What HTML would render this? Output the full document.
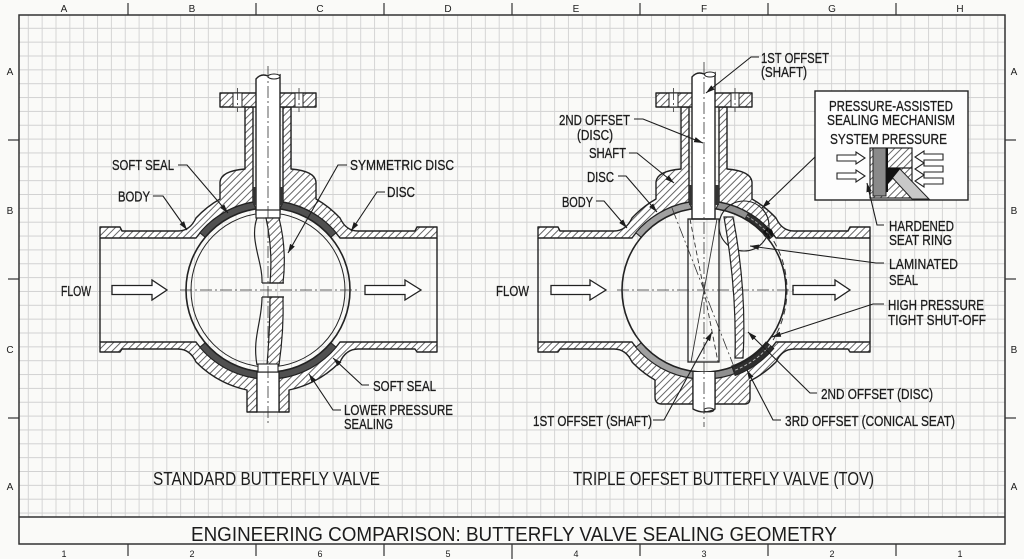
<!DOCTYPE html>
<html><head><meta charset="utf-8"><style>
html,body{margin:0;padding:0;background:#fafaf8;}
svg{display:block}
text{font-family:"Liberation Sans",Arial,sans-serif;fill:#1c1c1c}
</style></head><body>
<svg width="1024" height="559" viewBox="0 0 1024 559" xmlns="http://www.w3.org/2000/svg">
<defs>
<pattern id="g" x="0.1" y="0.1" width="13.85" height="13.85" patternUnits="userSpaceOnUse"><path d="M0,0.5 H13.85 M0.5,0 V13.85" stroke="#d2d2d2" stroke-width="0.9" fill="none"/></pattern>
<pattern id="h" width="5" height="5" patternUnits="userSpaceOnUse" patternTransform="rotate(45)"><rect width="5" height="5" fill="#fff"/><line x1="2.5" y1="0" x2="2.5" y2="5" stroke="#555" stroke-width="0.9"/></pattern>
<marker id="a" viewBox="0 0 10 6" refX="10" refY="3" markerWidth="9" markerHeight="6" orient="auto" markerUnits="userSpaceOnUse"><path d="M0,0 L10,3 L0,6 Z" fill="#1c1c1c"/></marker>
</defs>

<!-- background & grid -->
<rect x="0" y="0" width="1024" height="559" fill="#fafaf8"/>
<rect x="19" y="15" width="986" height="502" fill="url(#g)"/>
<rect x="19" y="15" width="986" height="529" fill="none" stroke="#333" stroke-width="1.5"/>
<line x1="19" y1="517" x2="1005" y2="517" stroke="#333" stroke-width="1.5"/>

<!-- rulers -->
<g stroke="#333" stroke-width="1.2">
<line x1="128" y1="3" x2="128" y2="15"/><line x1="256" y1="3" x2="256" y2="15"/><line x1="384" y1="3" x2="384" y2="15"/><line x1="512" y1="3" x2="512" y2="15"/><line x1="640" y1="3" x2="640" y2="15"/><line x1="768" y1="3" x2="768" y2="15"/><line x1="896" y1="3" x2="896" y2="15"/>
<line x1="128" y1="544" x2="128" y2="556"/><line x1="256" y1="544" x2="256" y2="556"/><line x1="384" y1="544" x2="384" y2="556"/><line x1="512" y1="544" x2="512" y2="559"/><line x1="640" y1="544" x2="640" y2="556"/><line x1="768" y1="544" x2="768" y2="556"/><line x1="896" y1="544" x2="896" y2="556"/>
<line x1="8" y1="140" x2="19" y2="140"/><line x1="8" y1="279" x2="19" y2="279"/><line x1="8" y1="418" x2="19" y2="418"/>
<line x1="1005" y1="140" x2="1016" y2="140"/><line x1="1005" y1="279" x2="1016" y2="279"/><line x1="1005" y1="418" x2="1016" y2="418"/>
</g>
<g font-size="10" text-anchor="middle">
<text x="64" y="12">A</text><text x="192" y="12">B</text><text x="320" y="12">C</text><text x="448" y="12">D</text><text x="576" y="12">E</text><text x="704" y="12">F</text><text x="832" y="12">G</text><text x="960" y="12">H</text>
<text x="10" y="75">A</text><text x="10" y="214">B</text><text x="10" y="353">C</text><text x="10" y="490">A</text>
<text x="1014" y="75">A</text><text x="1014" y="214">B</text><text x="1014" y="353">B</text><text x="1014" y="490">A</text>
</g>
<g font-size="9" text-anchor="middle">
<text x="64" y="557">1</text><text x="192" y="557">2</text><text x="320" y="557">6</text><text x="448" y="557">5</text><text x="576" y="557">4</text><text x="704" y="557">3</text><text x="832" y="557">2</text><text x="960" y="557">1</text>
</g>

<!-- ================= LEFT VALVE ================= -->
<g stroke="#222" stroke-width="1.4" stroke-linejoin="round" fill="url(#h)">
<path d="M100,227 L120,227 L122,231 L178,231 Q190,231 196,218 A102,102 0 0 1 220,199 L220,182 Q221,171 245,169 L245,107 L253,107 L253,202 A89,89 0 0 0 196,238 L100,238 Z"/>
<path d="M437,227 L417,227 L415,231 L358,231 Q346,231 340,218 A102,102 0 0 0 316,199 L316,182 Q315,171 291,169 L291,107 L283,107 L283,202 A89,89 0 0 1 340,238 L437,238 Z"/>
<path d="M100,342 L196,342 A89,89 0 0 0 257,378.3 L257,412 L247,412 L247,390 A102,102 0 0 1 196,362 Q190,349 178,349 L122,349 L120,352 L100,352 Z"/>
<path d="M437,342 L340,342 A89,89 0 0 1 279,378.3 L279,412 L289,412 L289,390 A102,102 0 0 0 340,362 Q346,349 358,349 L415,349 L417,352 L437,352 Z"/>
<rect x="220" y="93" width="96" height="14"/>
</g>
<g stroke="#222" stroke-width="1" fill="#fff">
<rect x="233" y="93" width="9" height="14"/><rect x="295" y="93" width="8" height="14"/>
</g>
<line x1="100" y1="238" x2="100" y2="342" stroke="#222" stroke-width="1.4"/>
<line x1="437" y1="238" x2="437" y2="342" stroke="#222" stroke-width="1.4"/>
<!-- seals -->
<g fill="#505050" stroke="#222" stroke-width="1">
<path d="M199.8,232.8 A89,89 0 0 1 253,202.3 L256,208.9 A82,82 0 0 0 205.2,237.3 Z"/>
<path d="M336.2,232.8 A89,89 0 0 0 283,202.3 L280,208.9 A82,82 0 0 1 330.8,237.3 Z"/>
<path d="M199.8,347.2 A89,89 0 0 0 257,378.3 L257,371.3 A82,82 0 0 1 205.2,342.7 Z"/>
<path d="M336.2,347.2 A89,89 0 0 1 279,378.3 L279,371.3 A82,82 0 0 0 330.8,342.7 Z"/>
</g>
<circle cx="268" cy="290" r="82" fill="none" stroke="#222" stroke-width="1.6"/>
<circle cx="268" cy="290" r="77" fill="none" stroke="#222" stroke-width="1"/>
<!-- shaft -->
<path d="M256,212 L256,79 Q261,73 268,76 Q274,79 280,75 L280,212 Z" fill="#fff" stroke="#222" stroke-width="1.4"/>
<ellipse cx="274" cy="76.5" rx="6" ry="2.5" fill="#fff" stroke="#222" stroke-width="1"/>
<rect x="253" y="187" width="3" height="18" fill="#333"/><rect x="280" y="187" width="3" height="18" fill="#333"/>
<rect x="256" y="210" width="24" height="8" fill="#fff" stroke="#222" stroke-width="1.2"/>
<!-- disc -->
<g stroke="#222" stroke-width="1.2" fill="none">
<path d="M257,218 C249,240 263,262 262,283"/>
<path d="M262,297 C262,322 252,338 257,365"/>
<path d="M266,218 L279,218 Q287,250 283,283 L270,283 Q273,250 266,218 Z" fill="url(#h)"/>
<path d="M270,297 L283,297 Q284,330 279,365 L267,365 Q270,330 270,297 Z" fill="url(#h)"/>
<line x1="262" y1="283" x2="284" y2="283"/><line x1="262" y1="297" x2="284" y2="297"/>
</g>
<rect x="257" y="372" width="22" height="40" fill="#fff" stroke="#222" stroke-width="1.3"/>
<rect x="258" y="364" width="20" height="8" fill="#fff" stroke="#222" stroke-width="1.1"/>
<!-- centerlines -->
<g stroke="#333" stroke-width="0.8" stroke-dasharray="12 3 2 3" fill="none">
<line x1="268" y1="66" x2="268" y2="423"/>
<line x1="180" y1="290" x2="357" y2="290"/>
<line x1="237.5" y1="88" x2="237.5" y2="112"/><line x1="299" y1="88" x2="299" y2="112"/>
</g>
<!-- flow arrows -->
<g fill="#fff" stroke="#222" stroke-width="1.3">
<path d="M112,285.5 L152,285.5 L152,280 L167,290 L152,300 L152,294.5 L112,294.5 Z"/>
<path d="M365,285.5 L405,285.5 L405,280 L421,290 L405,300 L405,294.5 L365,294.5 Z"/>
<path d="M551,285.5 L590,285.5 L590,280 L606,290 L590,300 L590,294.5 L551,294.5 Z"/>
<path d="M793,285.5 L835,285.5 L835,280 L850,290 L835,300 L835,294.5 L793,294.5 Z"/>
</g>

<!-- ================= TOV ================= -->
<g stroke="#222" stroke-width="1.4" stroke-linejoin="round" fill="url(#h)">
<path d="M538,227 L558,227 L560,231 L614,231 Q626,231 632,218 A102,102 0 0 1 656,199 L656,182 Q657,171 681,169 L681,107 L689,107 L689,202 A89,89 0 0 0 632,238 L538,238 Z"/>
<path d="M870,227 L850,227 L848,231 L794,231 Q782,231 776,218 A102,102 0 0 0 752,199 L752,182 Q751,171 727,169 L727,107 L719,107 L719,202 A89,89 0 0 1 776,238 L870,238 Z"/>
<path d="M538,342 L632,342 A89,89 0 0 0 693,378.3 L693,404 L662,404 Q655,404 655,397 L655,380 A102,102 0 0 1 632,362 Q626,349 614,349 L560,349 L558,352 L538,352 Z"/>
<path d="M870,342 L776,342 A89,89 0 0 1 715,378.3 L715,404 L745,404 Q750,404 750,398 L750,381 A102,102 0 0 0 776,362 Q782,349 794,349 L848,349 L850,352 L870,352 Z"/>
<rect x="656" y="93" width="96" height="14"/>
</g>
<g stroke="#222" stroke-width="1" fill="#fff">
<rect x="669" y="93" width="9" height="14"/><rect x="731" y="93" width="8" height="14"/>
</g>
<line x1="538" y1="238" x2="538" y2="342" stroke="#222" stroke-width="1.4"/>
<line x1="870" y1="238" x2="870" y2="342" stroke="#222" stroke-width="1.4"/>
<g stroke="#222" stroke-width="1">
<path d="M635.8,232.8 A89,89 0 0 1 689,202.3 L692,208.9 A82,82 0 0 0 641.2,237.3 Z" fill="#a0a0a0"/>
<path d="M635.8,347.2 A89,89 0 0 0 693,378.3 L693,371.3 A82,82 0 0 1 641.2,342.7 Z" fill="#a0a0a0"/>
<path d="M719,202.3 A89,89 0 0 1 774.1,235.2 L768.6,239.5 A82,82 0 0 0 716,208.9 Z" fill="#8f8f8f"/>
<path d="M748.5,212.9 A89,89 0 0 1 774.1,235.2 L768.6,239.5 A82,82 0 0 0 745,219 Z" fill="#2e2e2e"/>
<path d="M772.2,347.2 A89,89 0 0 1 715,378.3 L715,371.3 A82,82 0 0 0 766.8,342.7 Z" fill="#8f8f8f"/>
<path d="M773.7,348.5 A91,91 0 0 1 735.1,375.5 L731.7,366.1 A81,81 0 0 0 766,342.1 Z" fill="#2e2e2e"/>
</g>
<circle cx="768" cy="233" r="5" fill="#111"/>
<path d="M769.9,345.3 A86,86 0 0 1 733.4,370.8" stroke="#bbb" stroke-width="1" stroke-dasharray="3 2" fill="none"/>
<path d="M746.8,216 A85.5,85.5 0 0 1 771.4,237.4" stroke="#aaa" stroke-width="1" stroke-dasharray="3 2" fill="none"/>
<circle cx="704" cy="290" r="82" fill="none" stroke="#222" stroke-width="1.6"/>
<circle cx="744" cy="226" r="25" fill="none" stroke="#222" stroke-width="1.1"/>
<path d="M754.9,217.9 A97,97 0 0 1 773.1,340" fill="none" stroke="#333" stroke-width="1" stroke-dasharray="6 4"/>
<!-- shaft -->
<path d="M692,219 L692,77 Q697,71 704,74 Q710,77 715,73 L715,219 Z" fill="#fff" stroke="#222" stroke-width="1.4"/>
<ellipse cx="710" cy="74.5" rx="5.5" ry="2.5" fill="#fff" stroke="#222" stroke-width="1"/>
<rect x="689" y="185" width="3" height="20" fill="#333"/><rect x="715" y="185" width="4" height="20" fill="#333"/>
<!-- disc -->
<rect x="688" y="219" width="31" height="143" fill="none" stroke="#222" stroke-width="1.3"/>
<line x1="717" y1="219" x2="691" y2="362" stroke="#333" stroke-width="0.9"/>
<line x1="690" y1="219" x2="718" y2="362" stroke="#333" stroke-width="0.9" stroke-dasharray="5 3"/>
<line x1="672" y1="208" x2="736" y2="372" stroke="#333" stroke-width="0.8" stroke-dasharray="12 3 2 3"/>
<path d="M724,217 L733,217 Q747,290 743,358 L735,358 Q737,290 724,217 Z" fill="url(#h)" stroke="#222" stroke-width="1.2"/>
<path d="M693,372 L693,409 Q704,415 715,409 L715,372" fill="#fff" stroke="#222" stroke-width="1.3"/>
<ellipse cx="709" cy="410" rx="5" ry="2" fill="none" stroke="#222" stroke-width="0.9"/>
<g stroke="#333" stroke-width="0.8" stroke-dasharray="12 3 2 3" fill="none">
<line x1="704" y1="62" x2="704" y2="427"/>
<line x1="617" y1="290" x2="797" y2="290"/>
<line x1="673.5" y1="88" x2="673.5" y2="112"/><line x1="735" y1="88" x2="735" y2="112"/>
</g>

<!-- inset -->
<rect x="815" y="91" width="153" height="109" fill="#fdfdfd" stroke="#222" stroke-width="1.4"/>
<rect x="870" y="148" width="42" height="50" fill="url(#h)" stroke="#222" stroke-width="1.2"/>
<rect x="873" y="148" width="13" height="48" fill="#8a8a8a" stroke="#222" stroke-width="1"/>
<line x1="887" y1="148" x2="887" y2="192" stroke="#111" stroke-width="2"/>
<line x1="887" y1="168" x2="912" y2="168" stroke="#222" stroke-width="1.2"/>
<path d="M889,174 L899,168 L929,199 L912,199 Z" fill="#c8c8c8" stroke="#222" stroke-width="1"/>
<path d="M887,168 L901,168 L888,184 Z" fill="#111"/>
<g fill="#fff" stroke="#222" stroke-width="1.1">
<path d="M837,155 L856,155 L856,152 L865,158 L856,164 L856,161 L837,161 Z"/>
<path d="M837,173 L856,173 L856,170 L865,176 L856,182 L856,179 L837,179 Z"/>
<path d="M943,154 L924,154 L924,151 L915,157 L924,163 L924,160 L943,160 Z"/>
<path d="M943,166 L924,166 L924,163 L915,169 L924,175 L924,172 L943,172 Z"/>
<path d="M943,178 L924,178 L924,175 L915,181 L924,187 L924,184 L943,184 Z"/>
</g>

<!-- leaders -->
<g fill="none" stroke="#1c1c1c" stroke-width="1.1" marker-end="url(#a)">
<polyline points="178,165 187,165 228,213"/>
<polyline points="153,196 163,196 187,230"/>
<polyline points="347,165 338,165 288,253"/>
<polyline points="385,192 377,192 351,231"/>
<polyline points="369,385 362,385 333,358"/>
<polyline points="341,410 333,410 309,374"/>
<polyline points="759,57 751,57 706,93"/>
<polyline points="634,119 643,119 703,143"/>
<polyline points="629,153 637,153 674,183"/>
<polyline points="618,176 626,176 657,212"/>
<polyline points="596,201 604,201 627,228"/>
<polyline points="815,157 762,208"/>
<polyline points="884,225 877,225 867,183"/>
<polyline points="884,263 876,263 750,246"/>
<polyline points="884,304 873,304 772,337"/>
<polyline points="817,393 810,393 748,332"/>
<polyline points="781,420 773,420 747,370"/>
<polyline points="653,420 664,420 712,332"/>
</g>

<!-- labels -->
<g font-size="15" stroke="#1c1c1c" stroke-width="0.3">
<text x="112" y="170" textLength="62" lengthAdjust="spacingAndGlyphs">SOFT SEAL</text>
<text x="118" y="201.5" textLength="32" lengthAdjust="spacingAndGlyphs">BODY</text>
<text x="350" y="170" textLength="104" lengthAdjust="spacingAndGlyphs">SYMMETRIC DISC</text>
<text x="387" y="197" textLength="28" lengthAdjust="spacingAndGlyphs">DISC</text>
<text x="373" y="391" textLength="63" lengthAdjust="spacingAndGlyphs">SOFT SEAL</text>
<text x="344" y="415" textLength="109" lengthAdjust="spacingAndGlyphs">LOWER PRESSURE</text>
<text x="344" y="429" textLength="49" lengthAdjust="spacingAndGlyphs">SEALING</text>
<text x="61" y="296" textLength="30" lengthAdjust="spacingAndGlyphs">FLOW</text>
<text x="761" y="63" textLength="68" lengthAdjust="spacingAndGlyphs">1ST OFFSET</text>
<text x="761" y="77" textLength="46" lengthAdjust="spacingAndGlyphs">(SHAFT)</text>
<text x="559" y="125" textLength="71" lengthAdjust="spacingAndGlyphs">2ND OFFSET</text>
<text x="577" y="140" textLength="36" lengthAdjust="spacingAndGlyphs">(DISC)</text>
<text x="589" y="158" textLength="37" lengthAdjust="spacingAndGlyphs">SHAFT</text>
<text x="587" y="182" textLength="27" lengthAdjust="spacingAndGlyphs">DISC</text>
<text x="562" y="207" textLength="31" lengthAdjust="spacingAndGlyphs">BODY</text>
<text x="829" y="111" textLength="124" lengthAdjust="spacingAndGlyphs">PRESSURE-ASSISTED</text>
<text x="827" y="125" textLength="128" lengthAdjust="spacingAndGlyphs">SEALING MECHANISM</text>
<text x="830" y="144" textLength="117" lengthAdjust="spacingAndGlyphs">SYSTEM PRESSURE</text>
<text x="889" y="231" textLength="65" lengthAdjust="spacingAndGlyphs">HARDENED</text>
<text x="889" y="245" textLength="63" lengthAdjust="spacingAndGlyphs">SEAT RING</text>
<text x="889" y="269" textLength="69" lengthAdjust="spacingAndGlyphs">LAMINATED</text>
<text x="889" y="285" textLength="29" lengthAdjust="spacingAndGlyphs">SEAL</text>
<text x="888" y="310" textLength="96" lengthAdjust="spacingAndGlyphs">HIGH PRESSURE</text>
<text x="888" y="325" textLength="98" lengthAdjust="spacingAndGlyphs">TIGHT SHUT-OFF</text>
<text x="821" y="399" textLength="112" lengthAdjust="spacingAndGlyphs">2ND OFFSET (DISC)</text>
<text x="785" y="426" textLength="170" lengthAdjust="spacingAndGlyphs">3RD OFFSET (CONICAL SEAT)</text>
<text x="533" y="426" textLength="119" lengthAdjust="spacingAndGlyphs">1ST OFFSET (SHAFT)</text>
<text x="496" y="296" textLength="33" lengthAdjust="spacingAndGlyphs">FLOW</text>
</g>
<text x="153" y="485" font-size="18.5" textLength="227" lengthAdjust="spacingAndGlyphs">STANDARD BUTTERFLY VALVE</text>
<text x="573" y="485" font-size="18.5" textLength="301" lengthAdjust="spacingAndGlyphs">TRIPLE OFFSET BUTTERFLY VALVE (TOV)</text>
<text x="191" y="541" font-size="20.5" textLength="646" lengthAdjust="spacingAndGlyphs">ENGINEERING COMPARISON: BUTTERFLY VALVE SEALING GEOMETRY</text>
</svg>
</body></html>
